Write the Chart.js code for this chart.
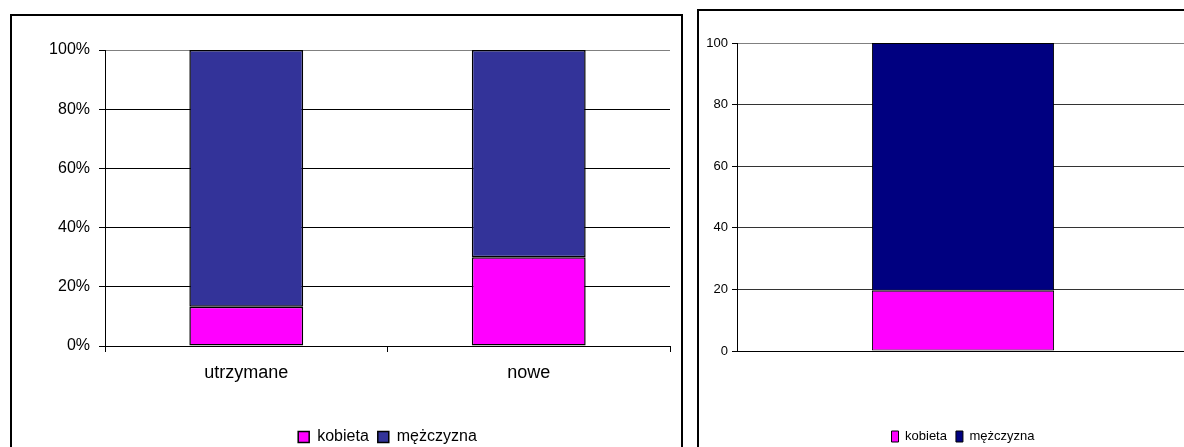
<!DOCTYPE html>
<html>
<head>
<meta charset="utf-8">
<script src="https://cdn.jsdelivr.net/npm/chart.js@4"></script>
<style>
  html, body { margin: 0; padding: 0; background: #fff; overflow: hidden; width: 1184px; height: 447px; }
  .box { position: absolute; border: 2px solid #000; background: #fff; }
  #boxL { left: 10px; top: 14px; width: 669px; height: 450px; }
  #boxR { left: 697px; top: 9px; width: 520px; height: 450px; }
  canvas { display: block; }
</style>
</head>
<body>
<div class="box" id="boxL"><canvas id="leftChart" width="669" height="450"></canvas></div>
<div class="box" id="boxR"><canvas id="rightChart" width="520" height="450"></canvas></div>

<script>
// ---- data ----
const seriesNames = ["kobieta", "mężczyzna"];
const leftCategories = ["utrzymane", "nowe"];
const leftKobieta = [13.3, 30];
const leftMezczyzna = [86.7, 70];
const leftTicks = [0, 20, 40, 60, 80, 100];

const rightCategories = [""];
const rightKobieta = [19.6];
const rightMezczyzna = [80.4];
const rightTicks = [0, 20, 40, 60, 80, 100];

const PINK = "#ff00ff";
const NAVY_L = "#333399";
const NAVY_R = "#000080";

const ARIAL = "'Liberation Sans', Arial, sans-serif";

Chart.defaults.animation = false;
Chart.defaults.color = "#000";

// builds one stacked bar chart; geometry is passed in as layout numbers
function makeChart(el, opt) {
  return new Chart(el, {
    type: "bar",
    data: {
      labels: opt.categories,
      datasets: [
        {
          label: seriesNames[0],
          data: opt.female,
          backgroundColor: PINK,
          borderColor: "#000",
          borderWidth: opt.barBorder,
          borderSkipped: false,
          categoryPercentage: 1,
          barPercentage: 0.403,
        },
        {
          label: seriesNames[1],
          data: opt.male,
          backgroundColor: opt.navy,
          borderColor: "#000",
          borderWidth: opt.barBorder,
          borderSkipped: false,
          categoryPercentage: 1,
          barPercentage: 0.403,
        },
      ],
    },
    options: {
      responsive: false,
      maintainAspectRatio: false,
      layout: { padding: { top: opt.padTop, right: opt.padRight, left: 0, bottom: opt.padBottom } },
      plugins: {
        tooltip: { enabled: false },
        legend: {
          position: "bottom",
          fullSize: false,
          labels: {
            font: { family: ARIAL, size: opt.legendSize },
            color: "#000",
            boxWidth: opt.boxW,
            boxHeight: 11,
            padding: 9,
          },
        },
      },
      scales: {
        x: {
          stacked: true,
          border: { display: true, color: "#000", width: 1 },
          grid: {
            display: opt.xGrid,
            offset: true,
            drawOnChartArea: true,
            color: (c) => (c.index === opt.categories.length ? "#808080" : "rgba(0,0,0,0)"),
            tickColor: "#000",
            tickLength: 6,
          },
          ticks: { font: { family: ARIAL, size: 18 }, color: "#000", padding: 10 },
          afterFit: (s) => { s.height = opt.xHeight; },
        },
        y: {
          stacked: true,
          min: 0,
          max: 100,
          afterBuildTicks: (s) => { s.ticks = opt.ticks.map((v) => ({ value: v })); },
          border: { display: true, color: "#000", width: 1 },
          grid: {
            color: (c) => (c.tick && c.tick.value === 100 ? "#808080" : opt.gridColor),
            tickColor: "#000",
            tickLength: opt.tickLen,
          },
          ticks: {
            font: { family: ARIAL, size: opt.tickSize },
            color: "#000",
            padding: opt.tickPad,
            callback: opt.fmt,
          },
          afterFit: (s) => { s.width = opt.yWidth; },
        },
      },
    },
  });
}

makeChart(document.getElementById("leftChart"), {
  categories: leftCategories,
  female: leftKobieta,
  male: leftMezczyzna,
  ticks: leftTicks,
  navy: NAVY_L,
  padTop: 34,
  padRight: 11,
  padBottom: 11,
  xHeight: 74,
  yWidth: 93,
  xGrid: true,
  gridColor: "#000",
  tickLen: 6,
  tickPad: 9,
  tickSize: 16,
  legendSize: 16,
  boxW: 11,
  barBorder: 1.5,
  fmt: (v) => v + "%",
});

makeChart(document.getElementById("rightChart"), {
  categories: rightCategories,
  female: rightKobieta,
  male: rightMezczyzna,
  ticks: rightTicks,
  navy: NAVY_R,
  padTop: 32,
  padRight: 30,
  padBottom: 8,
  xHeight: 70,
  yWidth: 38,
  xGrid: false,
  gridColor: "#333",
  tickLen: 5,
  tickPad: 4,
  tickSize: 13,
  legendSize: 13,
  boxW: 7,
  barBorder: 1,
  fmt: (v) => v,
});
</script>
</body>
</html>
